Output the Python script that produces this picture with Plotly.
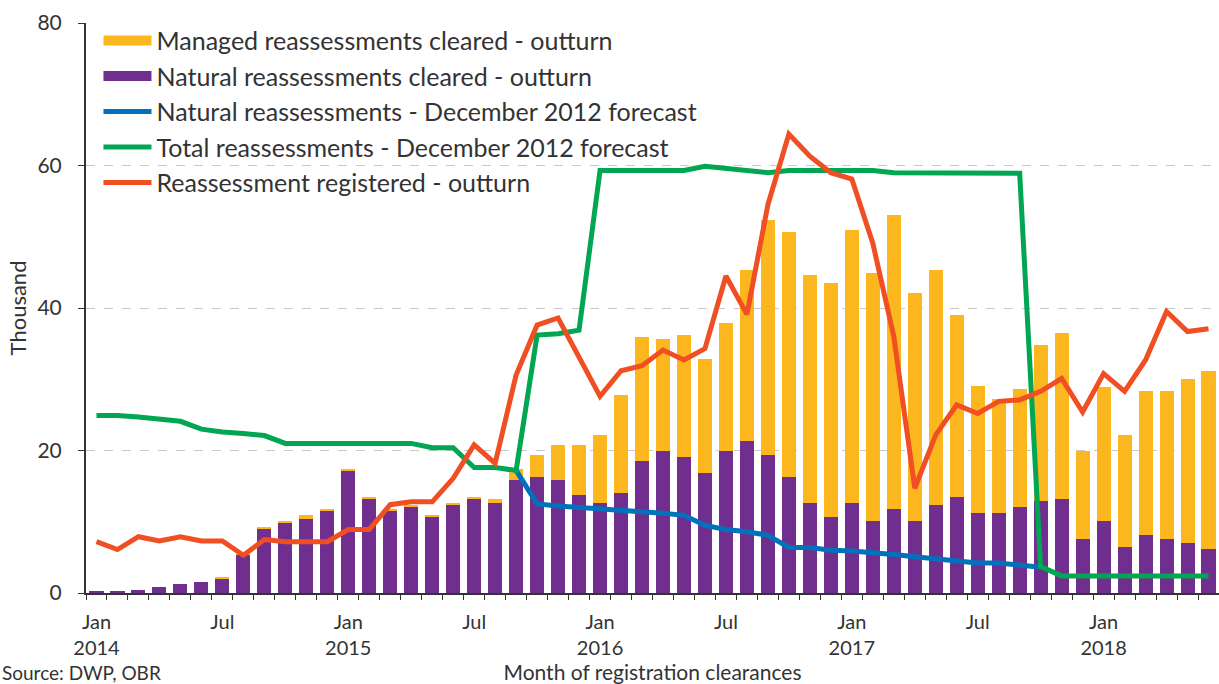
import pandas as pd
import plotly.graph_objects as go

# Monthly categories, January 2014 to June 2018
months = pd.date_range("2014-01-01", "2018-06-01", freq="MS")
month_keys = [m.strftime("%Y-%m") for m in months]
tick_text = [
    (m.strftime("%b") + "<br>" + m.strftime("%Y")) if m.month == 1
    else ("Jul" if m.month == 7 else "")
    for m in months
]

# Outturn, thousand reassessments cleared
natural_cleared = [0.3, 0.3, 0.4, 0.9, 1.2, 1.5, 2.0, 5.4, 9.0, 9.9, 10.4, 11.6,
                   17.2, 13.2, 11.6, 12.1, 10.7, 12.4, 13.2, 12.7, 15.8, 16.3, 15.8, 13.8,
                   12.6, 14.0, 18.5, 19.9, 19.1, 16.8, 19.9, 21.3, 19.4, 16.3, 12.6, 10.7,
                   12.6, 10.1, 11.8, 10.1, 12.4, 13.5, 11.2, 11.2, 12.1, 12.9, 13.2, 7.6,
                   10.1, 6.5, 8.1, 7.6, 7.0, 6.2]
managed_cleared = [0.0, 0.0, 0.0, 0.0, 0.0, 0.0, 0.3, 0.1, 0.3, 0.2, 0.5, 0.2,
                   0.2, 0.3, 0.2, 0.2, 0.2, 0.2, 0.3, 0.5, 1.6, 3.1, 5.0, 7.0,
                   9.6, 13.8, 17.5, 15.7, 17.1, 16.0, 18.0, 24.1, 33.0, 34.4, 32.0, 32.8,
                   38.4, 34.8, 41.2, 32.0, 33.0, 25.5, 17.8, 16.0, 16.5, 21.9, 23.3, 12.3,
                   18.8, 15.7, 20.3, 20.8, 23.0, 25.0]

# December 2012 forecasts
natural_forecast = [None] * 20 + [17.2, 12.5, 12.2, 12.0, 11.9, 11.6, 11.4, 11.2, 10.9, 9.5,
                                  8.9, 8.6, 8.1, 6.4, 6.4, 6.0, 5.9, 5.7, 5.4, 5.1,
                                  4.8, 4.5, 4.2, 4.2, 3.9, 3.6] + [None] * 8
total_forecast = [24.9, 24.9, 24.7, 24.4, 24.1, 23.0, 22.6, 22.4, 22.1, 21.0, 21.0, 21.0,
                  21.0, 21.0, 21.0, 21.0, 20.4, 20.4, 17.6, 17.6, 17.2, 36.2, 36.4, 36.9,
                  59.3, 59.3, 59.3, 59.3, 59.3, 59.9, 59.6, 59.3, 59.0, 59.3, 59.3, 59.3,
                  59.3, 59.3, 59.0, 59.0, 59.0, 59.0, 58.9, 58.9, 58.9, 3.7, 2.4, 2.4,
                  2.4, 2.4, 2.4, 2.4, 2.4, 2.4]

# Reassessments registered - outturn
registered = [7.2, 6.1, 7.9, 7.3, 7.9, 7.3, 7.3, 5.3, 7.5, 7.2, 7.2, 7.2,
              8.9, 8.9, 12.4, 12.8, 12.8, 16.1, 20.8, 18.2, 30.6, 37.6, 38.6, 33.1,
              27.6, 31.2, 31.9, 34.1, 32.7, 34.3, 44.5, 39.1, 54.5, 64.4, 61.3, 59.0,
              58.1, 49.1, 36.0, 14.7, 22.2, 26.4, 25.2, 26.9, 27.1, 28.3, 30.1, 25.4,
              30.8, 28.3, 32.7, 39.5, 36.7, 37.1]

ORANGE = "#FCB71E"
PURPLE = "#702F8F"
BLUE = "#0072BC"
GREEN = "#00A651"
RED = "#F04E23"
TEXT = "#333333"
FONT = "Lato"

MANAGED_NAME = "Managed reassessments cleared - outturn"
NATURAL_NAME = "Natural reassessments cleared - outturn"

fig = go.Figure()
# Stacked bars (legend keys are drawn as wide swatches below)
fig.add_trace(go.Bar(x=month_keys, y=natural_cleared, name=NATURAL_NAME,
                     marker=dict(color=PURPLE, line=dict(width=0)), showlegend=False))
fig.add_trace(go.Bar(x=month_keys, y=managed_cleared, name=MANAGED_NAME,
                     marker=dict(color=ORANGE, line=dict(width=0)), showlegend=False))
# Wide rectangular legend swatches for the two bar series
fig.add_trace(go.Scatter(x=[None], y=[None], mode="lines", name=MANAGED_NAME,
                         line=dict(color=ORANGE, width=12), legendrank=1, legendgroup="a"))
fig.add_trace(go.Scatter(x=[None], y=[None], mode="lines", name=NATURAL_NAME,
                         line=dict(color=PURPLE, width=12), legendrank=2, legendgroup="b"))
fig.add_trace(go.Scatter(x=month_keys, y=natural_forecast, mode="lines",
                         name="Natural reassessments - December 2012 forecast",
                         line=dict(color=BLUE, width=5), legendrank=3, legendgroup="c"))
fig.add_trace(go.Scatter(x=month_keys, y=total_forecast, mode="lines",
                         name="Total reassessments - December 2012 forecast",
                         line=dict(color=GREEN, width=5), legendrank=4, legendgroup="d"))
fig.add_trace(go.Scatter(x=month_keys, y=registered, mode="lines",
                         name="Reassessment registered - outturn",
                         line=dict(color=RED, width=5), legendrank=5, legendgroup="e"))

fig.update_layout(
    width=1219, height=684,
    margin=dict(l=86, r=0, t=23, b=91),
    paper_bgcolor="white", plot_bgcolor="white",
    barmode="stack", bargap=0.33,
    font=dict(family=FONT, color=TEXT, size=20),
    showlegend=True,
    legend=dict(x=0.011, y=1.009, xanchor="left", yanchor="top",
                bgcolor="rgba(0,0,0,0)", font=dict(size=25, color=TEXT),
                traceorder="grouped", tracegroupgap=0, itemwidth=48),
    xaxis=dict(type="category", tickmode="array", tickvals=month_keys, ticktext=tick_text,
               tickson="boundaries", ticks="outside", ticklen=5, tickcolor=TEXT,
               showline=True, linecolor=TEXT, linewidth=2, showgrid=False, automargin=False,
               tickfont=dict(size=20, color=TEXT), tickangle=0, ticklabelstandoff=10,
               title=dict(text="Month of registration clearances", font=dict(size=21), standoff=15),
               range=[-0.5, 53.5]),
    yaxis=dict(range=[0, 80], tickvals=[0, 20, 40, 60, 80], ticks="outside", ticklen=6,
               tickcolor=TEXT, showline=True, linecolor=TEXT, linewidth=2, automargin=False,
               showgrid=True, gridcolor="#C8C8C8", griddash="dash", gridwidth=1,
               zeroline=False, tickfont=dict(size=21, color=TEXT), ticklabelstandoff=12,
               title=dict(text="Thousand", font=dict(size=22), standoff=5)),
    annotations=[dict(text="Source: DWP, OBR", xref="paper", yref="paper", x=-0.076, y=-0.1158,
                      xanchor="left", yanchor="top", showarrow=False,
                      font=dict(size=19, color=TEXT))],
)

fig.write_html("out.html")
